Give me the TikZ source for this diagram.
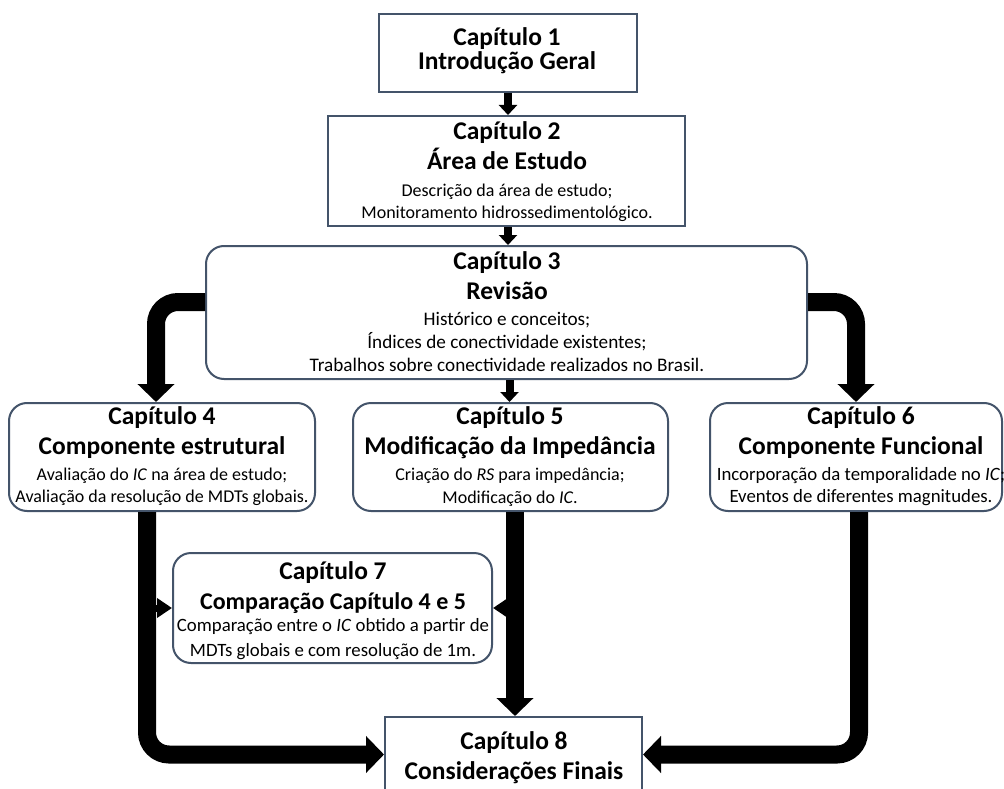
\documentclass[tikz,border=0pt]{standalone}
\usepackage{fontspec}
\setmainfont{Carlito}
\usetikzlibrary{arrows.meta,calc}
\definecolor{boxc}{RGB}{68,84,106}
\newcommand\ttlfnt{\fontsize{25.5}{30}\selectfont\bfseries}
\newcommand\ttlsmall{\fontsize{24}{30}\selectfont\bfseries}
\newcommand\bdyfnt{\fontsize{18}{22}\selectfont}
\newcommand\bdybig{\fontsize{18.8}{24}\selectfont}
\newcommand\bdyrev{\fontsize{19.2}{24}\selectfont}
\begin{document}
\begin{tikzpicture}[x=1pt,y=-1pt,
  sqbox/.style={draw=boxc, line width=2pt, fill=white, inner sep=0pt},
  rdbox/.style={sqbox, rounded corners=18pt},
  ttl/.style={font=\ttlfnt, anchor=base, inner sep=0pt},
  ttlb/.style={font=\ttlsmall, anchor=base, inner sep=0pt},
  bdy/.style={font=\bdyfnt, anchor=base, inner sep=0pt},
  bdyb/.style={font=\bdybig, anchor=base, inner sep=0pt},
  bdyr/.style={font=\bdyrev, anchor=base, inner sep=0pt},
  smallarr/.style={line width=8pt, black, -{Triangle[width=18pt,length=10pt]}},
  sidearr/.style={line width=7pt, black, -{Triangle[width=19pt,length=15pt]}},
  bigarr/.style={line width=18pt, black, rounded corners=22pt, -{Triangle[width=36pt,length=18pt]}}
]
\clip (0,0) rectangle (1004,789);
\fill[white] (0,0) rectangle (1004,789);

% boxes
\node[sqbox, minimum width=258pt, minimum height=78pt] (c1) at (508,53) {};
\node[sqbox, minimum width=357pt, minimum height=110pt] (c2) at (506.5,171) {};
\node[rdbox, minimum width=601pt, minimum height=133pt] (c3) at (506.5,312.5) {};
\node[rdbox, minimum width=306pt, minimum height=108pt] (c4) at (162,457) {};
\node[rdbox, minimum width=315pt, minimum height=108pt] (c5) at (510.5,457) {};
\node[rdbox, minimum width=292pt, minimum height=108pt] (c6) at (856,457) {};
\node[rdbox, minimum width=319pt, minimum height=110pt] (c7) at (332.5,608) {};
\node[sqbox, minimum width=257pt, minimum height=75pt] (c8) at (513.5,754.5) {};

% texts
\node[ttl] (t1a) at (507,45.5) {Capítulo 1};
\node[ttl] (t1b) at (507,70) {Introdução Geral};

\node[ttl] (t2a) at (507,140) {Capítulo 2};
\node[ttl] (t2b) at (507,170) {Área de Estudo};
\node[bdy] (t2c) at (507,196.5) {Descrição da área de estudo;};
\node[bdy] (t2d) at (507,218.5) {Monitoramento hidrossedimentológico.};

\node[ttl] (t3a) at (507,269) {Capítulo 3};
\node[ttl] (t3b) at (507,299) {Revisão};
\node[bdyr] (t3c) at (507,325) {Histórico e conceitos;};
\node[bdyr] (t3d) at (507,348) {Índices de conectividade existentes;};
\node[bdyr] (t3e) at (507,371) {Trabalhos sobre conectividade realizados no Brasil.};

\node[ttl] (t4a) at (162,424) {Capítulo 4};
\node[ttl] (t4b) at (162,454) {Componente estrutural};
\node[bdy] (t4c) at (162,480.5) {Avaliação do \textit{IC} na área de estudo;};
\node[bdy] (t4d) at (162,502.5) {Avaliação da resolução de MDTs globais.};

\node[ttl] (t5a) at (510,424) {Capítulo 5};
\node[ttl] (t5b) at (510,454) {Modificação da Impedância};
\node[bdy] (t5c) at (510,480.5) {Criação do \textit{RS} para impedância;};
\node[bdy] (t5d) at (510,503) {Modificação do \textit{IC}.};

\node[ttl] (t6a) at (861,424) {Capítulo 6};
\node[ttl] (t6b) at (861,454) {Componente Funcional};
\node[bdyb] (t6c) at (861,480.5) {Incorporação da temporalidade no \textit{IC};};
\node[bdyb] (t6d) at (861,502.5) {Eventos de diferentes magnitudes.};

\node[ttl] (t7a) at (333,579) {Capítulo 7};
\node[ttlb] (t7b) at (333,609) {Comparação Capítulo 4 e 5};
\node[bdyb] (t7c) at (333,631.5) {Comparação entre o \textit{IC} obtido a partir de};
\node[bdyb] (t7d) at (333,656) {MDTs globais e com resolução de 1m.};

\node[ttl] (t8a) at (514,749) {Capítulo 8};
\node[ttl] (t8b) at (514,779) {Considerações Finais};

% connectors
\draw[smallarr] (c1.south) -- (c1.south |- c2.north);
\draw[smallarr] ([xshift=1.5pt]c2.south) -- ([xshift=1.5pt]c2.south |- c3.north);
\draw[smallarr] ([xshift=3pt]c3.south) -- ([xshift=3pt]c3.south |- c5.north);

\draw[bigarr] ([yshift=10.5pt]c3.west) -| ([xshift=-6pt]c4.north);
\draw[bigarr] ([yshift=10.5pt]c3.east) -| (c6.north);

\coordinate (L) at ([xshift=-15pt]c4.south);
\coordinate (M) at ([xshift=4.5pt]c5.south);
\coordinate (R) at ([xshift=3pt]c6.south);

\draw[bigarr] (L) |- (c8.west);
\draw[sidearr] (L |- c7.west) -- (c7.west);
\draw[bigarr] (M) -- (M |- c8.north);
\draw[sidearr] (M |- c7.east) -- (c7.east);
\draw[bigarr] (R) |- (c8.east);
\end{tikzpicture}
\end{document}
